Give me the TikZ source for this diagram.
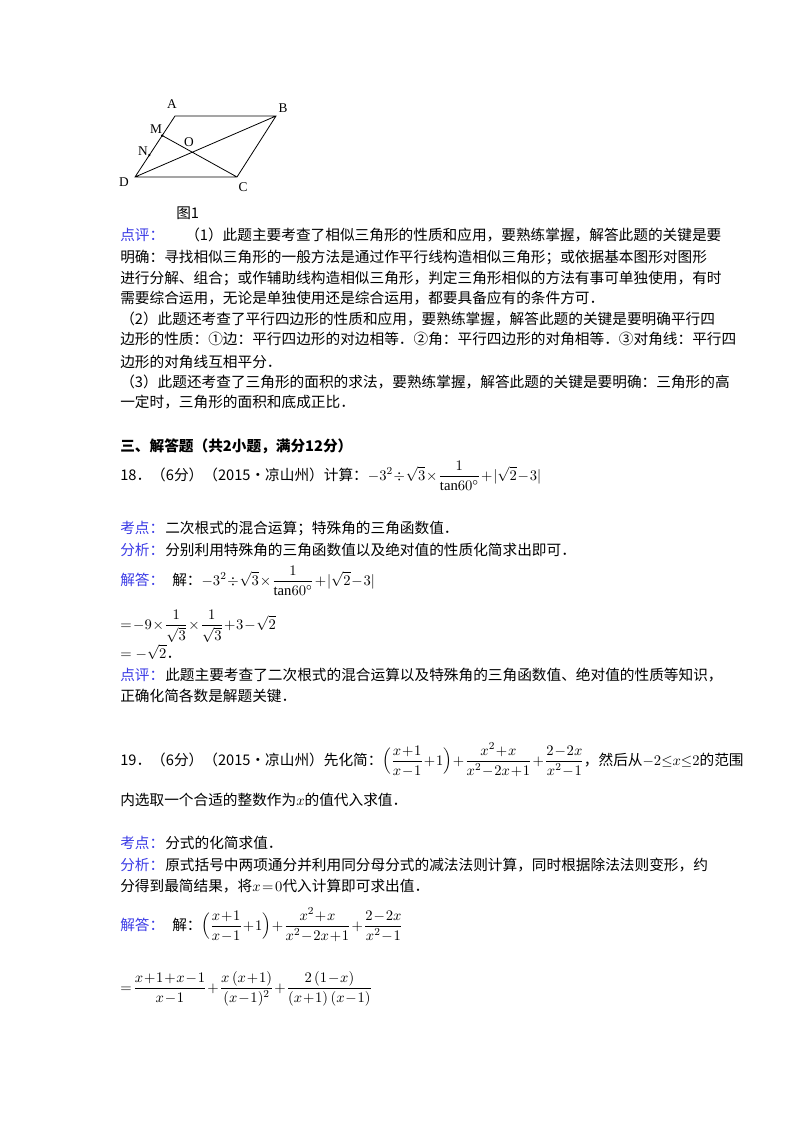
\documentclass[tikz,border=0pt]{standalone}
\usepackage{amsmath}
\usepackage{fontspec}
\usetikzlibrary{calc}
\setmainfont{Liberation Serif}
\newfontfamily\cjk{Noto Sans CJK SC}
\newcommand\tightmu{\medmuskip=1mu\relax\thickmuskip=2mu\relax}
\definecolor{lbl}{RGB}{60,60,230}
\begin{document}
\begin{tikzpicture}[x=0.75pt,y=-0.75pt,
  t/.style={anchor=base west,inner sep=0,font=\fontsize{11}{13}\selectfont\cjk\tightmu},
  lb/.style={t,text=lbl},
  pt/.style={font=\fontsize{10}{12}\selectfont,inner sep=1pt}]
\useasboundingbox[fill=white] (0,0) rectangle (800,1132);
% figure
\coordinate (A) at (175,116); \coordinate (B) at (276,116);
\coordinate (C) at (237,177); \coordinate (D) at (135,177);
\coordinate (M) at ($(A)!0.32!(D)$); \coordinate (N) at ($(A)!0.64!(D)$);
\draw[line width=0.6pt] (A)--(B)--(C)--(D)--cycle (D)--(B) (M)--(C);
\fill (M) circle (1.3); \fill (N) circle (1.3);
\node[pt] (lA) at (172,104) {A}; \node[pt] (lB) at (283,108) {B};
\node[pt] (lM) at (156,129) {M}; \node[pt] (lO) at (189,142) {O};
\node[pt] (lN) at (143,151) {N}; \node[pt] (lD) at (124,182) {D};
\node[pt] (lC) at (243,187) {C};
\node[t] (f1) at (176,218) {图1};
% 点评
\node[lb] (a1) at (120,240) {点评：};
\node[t] (a2) at (185,240) {（1）此题主要考查了相似三角形的性质和应用，要熟练掌握，解答此题的关键是要};
\node[t] (a3) at (120,262) {明确：寻找相似三角形的一般方法是通过作平行线构造相似三角形；或依据基本图形对图形};
\node[t] (a4) at (120,283) {进行分解、组合；或作辅助线构造相似三角形，判定三角形相似的方法有事可单独使用，有时};
\node[t] (a5) at (120,303) {需要综合运用，无论是单独使用还是综合运用，都要具备应有的条件方可．};
\node[t] (a6) at (120,324) {（2）此题还考查了平行四边形的性质和应用，要熟练掌握，解答此题的关键是要明确平行四};
\node[t] (a7) at (120,344) {边形的性质：①边：平行四边形的对边相等．②角：平行四边形的对角相等．③对角线：平行四};
\node[t] (a8) at (120,367) {边形的对角线互相平分．};
\node[t] (a9) at (120,387) {（3）此题还考查了三角形的面积的求法，要熟练掌握，解答此题的关键是要明确：三角形的高};
\node[t] (a10) at (120,407) {一定时，三角形的面积和底成正比．};
\node[t,font=\fontsize{11}{13}\selectfont\cjk\bfseries] (h3) at (120,451) {三、解答题（共2小题，满分12分）};
% 18
\node[t] (q18) at (120,480) {18．（6分）（2015•凉山州）计算：{\rmfamily$-3^2\div\sqrt{3}\times\dfrac{1}{\mathrm{tan}60^\circ}+|\sqrt{2}-3|$}};
\node[lb] (k1) at (120,533) {考点：}; \node[t] (k1t) at (165,533) {二次根式的混合运算；特殊角的三角函数值．};
\node[lb] (f18) at (120,555) {分析：}; \node[t] (f18t) at (165,555) {分别利用特殊角的三角函数值以及绝对值的性质化简求出即可．};
\node[lb] (j18) at (120,585) {解答：};
\node[t] (j18t) at (172,585) {解：{\rmfamily$-3^2\div\sqrt{3}\times\dfrac{1}{\mathrm{tan}60^\circ}+|\sqrt{2}-3|$}};
\node[t,font=\fontsize{11}{13}\selectfont\tightmu] (e1) at (120,629) {$=-9\times\dfrac{1}{\sqrt{3}}\times\dfrac{1}{\sqrt{3}}+3-\sqrt{2}$};
\node[t,font=\fontsize{11}{13}\selectfont] (e2) at (120,658) {$=-\sqrt{2}$\cjk．};
\node[lb] (d18) at (120,680) {点评：}; \node[t] (d18t) at (165,680) {此题主要考查了二次根式的混合运算以及特殊角的三角函数值、绝对值的性质等知识，};
\node[t] (d18u) at (120,701) {正确化简各数是解题关键．};
% 19
\node[t] (q19) at (120,765) {19．（6分）（2015•凉山州）先化简：{\rmfamily$\Bigl(\dfrac{x+1}{x-1}+1\Bigr)+\dfrac{x^2+x}{x^2-2x+1}+\dfrac{2-2x}{x^2-1}$}，然后从{\rmfamily$-2{\le}x{\le}2$}的范围};
\node[t] (q19b) at (120,805) {内选取一个合适的整数作为{\rmfamily$x$}的值代入求值．};
\node[lb] (k2) at (120,848) {考点：}; \node[t] (k2t) at (165,848) {分式的化简求值．};
\node[lb] (f19) at (120,870) {分析：}; \node[t] (f19t) at (165,870) {原式括号中两项通分并利用同分母分式的减法法则计算，同时根据除法法则变形，约};
\node[t] (f19u) at (120,891) {分得到最简结果，将{\rmfamily$x=0$}代入计算即可求出值．};
\node[lb] (j19) at (120,930) {解答：};
\node[t] (j19t) at (172,930) {解：{\rmfamily$\Bigl(\dfrac{x+1}{x-1}+1\Bigr)+\dfrac{x^2+x}{x^2-2x+1}+\dfrac{2-2x}{x^2-1}$}};
\node[t,font=\fontsize{11}{13}\selectfont\tightmu] (e3) at (120,992) {$=\dfrac{x+1+x-1}{x-1}+\dfrac{x\,(x+1)}{(x-1)^2}+\dfrac{2\,(1-x)}{(x+1)\,(x-1)}$};
\end{tikzpicture}
\end{document}
